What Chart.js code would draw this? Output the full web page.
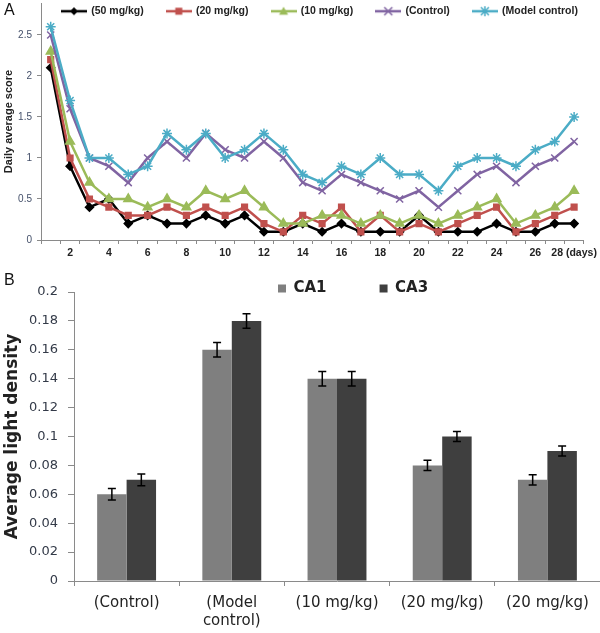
<!DOCTYPE html>
<html>
<head>
<meta charset="utf-8">
<script src="https://cdn.jsdelivr.net/npm/chart.js@4.4.1/dist/chart.umd.min.js"></script>
<style>
body { margin: 0; background: #fff; width: 600px; height: 633px; position: relative; overflow: hidden; font-family: "Liberation Sans", Arial, sans-serif; }
#chartA { position: absolute; left: 0; top: -8px; }
#chartB { position: absolute; left: 0; top: 265px; }
.tag { position: absolute; left: 4px; font-size: 16px; line-height: 16px; color: #111; }
</style>
</head>
<body>
<canvas id="chartA" width="600" height="273"></canvas>
<canvas id="chartB" width="600" height="368"></canvas>
<div class="tag" style="top:2px">A</div>
<div class="tag" style="top:272px">B</div>
<script>
// panel A: daily average score
var dayLabels = ['', '2', '', '4', '', '6', '', '8', '', '10', '', '12', '', '14', '', '16', '', '18', '', '20', '', '22', '', '24', '', '26', '', '28 (days)'];
var scoreTicks = ['0', '0.5', '1', '1.5', '2', '2.5'];
var dose50 = [2.1, 0.9, 0.4, 0.5, 0.2, 0.3, 0.2, 0.2, 0.3, 0.2, 0.3, 0.1, 0.1, 0.2, 0.1, 0.2, 0.1, 0.1, 0.1, 0.3, 0.1, 0.1, 0.1, 0.2, 0.1, 0.1, 0.2, 0.2];
var dose20 = [2.2, 1.0, 0.5, 0.4, 0.3, 0.3, 0.4, 0.3, 0.4, 0.3, 0.4, 0.2, 0.1, 0.3, 0.2, 0.4, 0.1, 0.3, 0.1, 0.2, 0.1, 0.2, 0.3, 0.4, 0.1, 0.2, 0.3, 0.4];
var dose10 = [2.3, 1.2, 0.7, 0.5, 0.5, 0.4, 0.5, 0.4, 0.6, 0.5, 0.6, 0.4, 0.2, 0.2, 0.3, 0.3, 0.2, 0.3, 0.2, 0.3, 0.2, 0.3, 0.4, 0.5, 0.2, 0.3, 0.4, 0.6];
var control = [2.5, 1.6, 1.0, 0.9, 0.7, 1.0, 1.2, 1.0, 1.3, 1.1, 1.0, 1.2, 1.0, 0.7, 0.6, 0.8, 0.7, 0.6, 0.5, 0.6, 0.4, 0.6, 0.8, 0.9, 0.7, 0.9, 1.0, 1.2];
var modelControl = [2.6, 1.7, 1.0, 1.0, 0.8, 0.9, 1.3, 1.1, 1.3, 1.0, 1.1, 1.3, 1.1, 0.8, 0.7, 0.9, 0.8, 1.0, 0.8, 0.8, 0.6, 0.9, 1.0, 1.0, 0.9, 1.1, 1.2, 1.5];

// panel B: average light density
var groups = ['(Control)', ['(Model', 'control)'], '(10 mg/kg)', '(20 mg/kg)', '(20 mg/kg)'];
var densityTicks = ['0', '0.02', '0.04', '0.06', '0.08', '0.1', '0.12', '0.14', '0.16', '0.18', '0.2'];
var ca1 = [0.06, 0.16, 0.14, 0.08, 0.07];
var ca3 = [0.07, 0.18, 0.14, 0.10, 0.09];
var ca1Err = [0.004, 0.005, 0.005, 0.0035, 0.0035];
var ca3Err = [0.004, 0.005, 0.005, 0.0035, 0.0035];

Chart.defaults.animation = false;

// legend sits over the plot like in the figure: no layout space, placed by hand
function legendSpot(left, top) {
	return {
		id: 'legendSpot',
		beforeInit: function(chart) {
			var fit = chart.legend.fit;
			chart.legend.fit = function() {
				fit.bind(chart.legend)();
				this.height = 0;
			};
		},
		afterLayout: function(chart) {
			var lg = chart.legend;
			var w = lg.right - lg.left;
			lg.left = left;
			lg.right = left + w;
			lg.top = top;
			lg.bottom = top + 120;
		}
	};
}

// little line + marker picture for legend A
function lineIcon(color, shape) {
	var c = document.createElement('canvas');
	c.width = 26; c.height = 12;
	var g = c.getContext('2d');
	g.strokeStyle = color; g.fillStyle = color; g.lineWidth = 2.5;
	g.beginPath(); g.moveTo(0, 6); g.lineTo(26, 6); g.stroke();
	g.lineWidth = 1.5;
	g.beginPath();
	if (shape == 'rectRot') {
		g.moveTo(13, 2); g.lineTo(17, 6); g.lineTo(13, 10); g.lineTo(9, 6); g.closePath(); g.fill();
	} else if (shape == 'rect') {
		g.fillRect(9.5, 2.5, 7, 7);
	} else if (shape == 'triangle') {
		g.moveTo(13, 1.5); g.lineTo(17.5, 9.5); g.lineTo(8.5, 9.5); g.closePath(); g.fill();
	} else if (shape == 'crossRot') {
		g.moveTo(9, 2); g.lineTo(17, 10); g.moveTo(17, 2); g.lineTo(9, 10); g.stroke();
	} else {
		g.moveTo(9, 2); g.lineTo(17, 10); g.moveTo(17, 2); g.lineTo(9, 10);
		g.moveTo(13, 1); g.lineTo(13, 11); g.stroke();
	}
	return c;
}

function series(label, data, color, shape, radius, order) {
	return {
		label: label,
		data: data,
		borderColor: color,
		backgroundColor: color,
		borderWidth: 2.5,
		pointStyle: shape,
		pointRadius: radius,
		pointBorderWidth: 1.5,
		pointBackgroundColor: color,
		pointBorderColor: color,
		tension: 0,
		order: order,
		icon: lineIcon(color, shape)
	};
}

var ctx = document.getElementById('chartA').getContext('2d');
var chartA = new Chart(ctx, {
	type: 'line',
	data: {
		labels: dayLabels,
		datasets: [
			series('(50 mg/kg)', dose50, '#000000', 'rectRot', 4, 5),
			series('(20 mg/kg)', dose20, '#c0504d', 'rect', 4, 4),
			series('(10 mg/kg)', dose10, '#9bbb59', 'triangle', 5, 3),
			series('(Control)', control, '#8064a2', 'crossRot', 5, 2),
			series('(Model control)', modelControl, '#4bacc6', 'star', 5, 1)
		]
	},
	options: {
		responsive: false,
		layout: { padding: { top: 0, right: 0, bottom: 0, left: 0 } },
		plugins: {
			tooltip: { enabled: false },
			legend: {
				position: 'top',
				align: 'start',
				labels: {
					usePointStyle: true,
					pointStyleWidth: 24,
					padding: 23,
					color: '#222',
					font: { family: 'Liberation Sans', size: 10.5, weight: 'bold' },
					generateLabels: function(chart) {
						return chart.data.datasets.map(function(ds, i) {
							return { text: ds.label, pointStyle: ds.icon, fillStyle: ds.borderColor, strokeStyle: ds.borderColor, lineWidth: 0, hidden: false, datasetIndex: i, fontColor: '#222' };
						});
					}
				}
			}
		},
		scales: {
			x: {
				offset: true,
				afterFit: function(scale) { scale.height = 25; },
				grid: { offset: true, drawOnChartArea: false, tickLength: 4, color: '#8a8a8a' },
				border: { color: '#8a8a8a' },
				ticks: { autoSkip: false, maxRotation: 0, padding: 3, color: '#222', font: { family: 'Liberation Sans', size: 10.5, weight: 'bold' } }
			},
			y: {
				min: 0,
				max: 2.89,
				afterFit: function(scale) { scale.width = 41; },
				grid: { drawOnChartArea: false, tickLength: 4, color: '#8a8a8a' },
				border: { color: '#8a8a8a' },
				ticks: {
					stepSize: 0.5,
					includeBounds: false,
					padding: 5,
					color: '#44506a',
					font: { family: 'Liberation Sans', size: 10 },
					callback: function(v, i) { return scoreTicks[i]; }
				},
				title: { display: true, text: 'Daily average score', color: '#222', padding: { top: 2, bottom: 2 }, font: { family: 'Liberation Sans', size: 11, weight: 'bold' } }
			}
		}
	},
	plugins: [legendSpot(39, -9)]
});

// error bars on top of the bars
var errorBars = {
	id: 'errorBars',
	afterDatasetsDraw: function(chart) {
		var c = chart.ctx, y = chart.scales.y;
		chart.data.datasets.forEach(function(ds, i) {
			chart.getDatasetMeta(i).data.forEach(function(bar, j) {
				var top = y.getPixelForValue(ds.data[j] + ds.errors[j]);
				var bot = y.getPixelForValue(ds.data[j] - ds.errors[j]);
				c.save();
				c.strokeStyle = '#000'; c.lineWidth = 1.5;
				c.beginPath();
				c.moveTo(bar.x, top); c.lineTo(bar.x, bot);
				c.moveTo(bar.x - 4, top); c.lineTo(bar.x + 4, top);
				c.moveTo(bar.x - 4, bot); c.lineTo(bar.x + 4, bot);
				c.stroke();
				c.restore();
			});
		});
	}
};

var ctx = document.getElementById('chartB').getContext('2d');
var chartB = new Chart(ctx, {
	type: 'bar',
	data: {
		labels: groups,
		datasets: [
			{ label: 'CA1', data: ca1, errors: ca1Err, backgroundColor: '#7f7f7f', borderWidth: 0, categoryPercentage: 0.56, barPercentage: 1 },
			{ label: 'CA3', data: ca3, errors: ca3Err, backgroundColor: '#3f3f3f', borderWidth: 0, categoryPercentage: 0.56, barPercentage: 1 }
		]
	},
	options: {
		responsive: false,
		layout: { padding: { top: 27, right: 0, bottom: 0, left: 0 } },
		plugins: {
			tooltip: { enabled: false },
			legend: {
				position: 'top',
				align: 'start',
				labels: {
					boxWidth: 8,
					boxHeight: 8,
					padding: 53,
					color: '#222',
					font: { family: 'DejaVu Sans', size: 15, weight: 'bold' }
				}
			}
		},
		scales: {
			x: {
				afterFit: function(scale) { scale.height = 52; },
				grid: { offset: true, drawOnChartArea: false, tickLength: 5, color: '#8a8a8a' },
				border: { color: '#8a8a8a' },
				ticks: { autoSkip: false, maxRotation: 0, padding: 8, color: '#222', font: { family: 'DejaVu Sans', size: 15 } }
			},
			y: {
				min: 0,
				max: 0.2,
				afterFit: function(scale) { scale.width = 74; },
				grid: { drawOnChartArea: false, tickLength: 6, color: '#8a8a8a' },
				border: { color: '#8a8a8a' },
				ticks: {
					stepSize: 0.02,
					padding: 10,
					color: '#333a48',
					font: { family: 'DejaVu Sans', size: 13 },
					callback: function(v, i) { return densityTicks[i]; }
				},
				title: { display: true, text: 'Average light density', color: '#222', padding: { top: 2, bottom: 2 }, font: { family: 'DejaVu Sans', size: 17, weight: 'bold' } }
			}
		}
	},
	plugins: [errorBars, legendSpot(225, -37)]
});
</script>
</body>
</html>
